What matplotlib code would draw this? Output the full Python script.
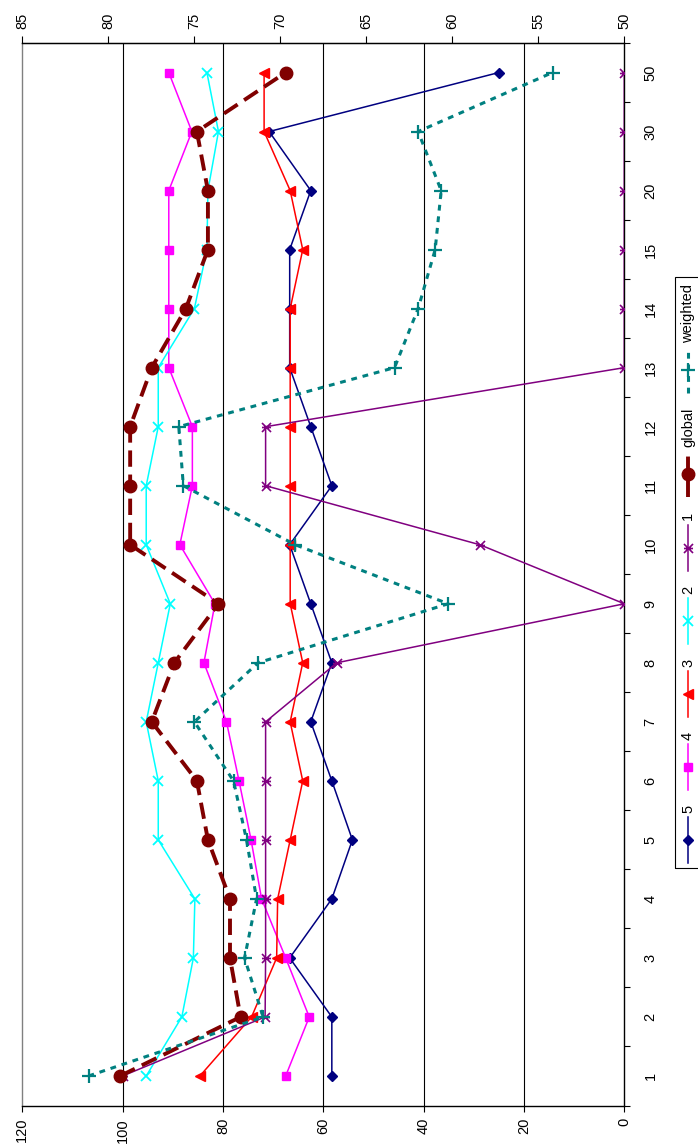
import numpy as np
import matplotlib
matplotlib.use("Agg")
import matplotlib.pyplot as plt
from matplotlib.lines import Line2D
from matplotlib.patches import Rectangle
from matplotlib.path import Path

plt.rcParams['font.family'] = ['Liberation Sans', 'DejaVu Sans']

# ---- data -------------------------------------------------------------
categories = ["1", "2", "3", "4", "5", "6", "7", "8", "9", "10",
              "11", "12", "13", "14", "15", "20", "30", "50"]

series_5 = [58.3, 58.3, 66.7, 58.3, 54.2, 58.3, 62.5, 58.3, 62.5, 66.7,
            58.3, 62.5, 66.7, 66.7, 66.7, 62.5, 70.8, 25.0]
series_4 = [67.5, 62.8, 67.5, 72.3, 74.4, 76.8, 79.3, 83.8, 81.6, 88.6,
            86.1, 86.1, 90.8, 90.8, 90.8, 90.8, 86.2, 90.8]
series_3 = [84.6, 74.3, 69.3, 69.1, 66.6, 64.1, 66.6, 64.1, 66.6, 66.6,
            66.6, 66.6, 66.6, 66.6, 64.1, 66.6, 71.8, 71.8]
series_2 = [95.3, 88.2, 85.9, 85.6, 92.9, 92.9, 95.3, 92.9, 90.5, 95.3,
            95.3, 92.9, 92.9, 85.7, 83.2, 83.0, 80.9, 83.2]
series_1 = [100.0, 71.6, 71.5, 71.5, 71.5, 71.5, 71.5, 57.3, 0.0, 28.8,
            71.5, 71.5, 0.0, 0.0, 0.0, 0.0, 0.0, 0.0]
series_global = [100.5, 76.5, 78.6, 78.6, 83.0, 85.2, 94.2, 89.7, 80.9, 98.5,
                 98.5, 98.5, 94.2, 87.4, 83.0, 83.0, 85.2, 67.5]
series_weighted = [106.8, 72.0, 75.7, 73.3, 75.3, 77.9, 85.7, 73.0, 35.1, 65.6,
                   87.9, 88.8, 45.8, 41.1, 37.7, 36.5, 41.1, 14.3]

primary_ticks = [0, 20, 40, 60, 80, 100, 120]
secondary_ticks = [50, 55, 60, 65, 70, 75, 80, 85]

# ---- styles -----------------------------------------------------------
# asterisk marker: an "x" crossed by a bar
star_path = Path([(-1, -1), (1, 1), (-1, 1), (1, -1), (-1, 0), (1, 0)],
                 [Path.MOVETO, Path.LINETO, Path.MOVETO, Path.LINETO,
                  Path.MOVETO, Path.LINETO])

styles = [
    ("5", series_5, dict(color="#000080", lw=1.1, marker="D", ms=5.2,
                         mfc="#000080", mec="#000080")),
    ("4", series_4, dict(color="#FF00FF", lw=1.1, marker="s", ms=6.2,
                         mfc="#FF00FF", mec="#FF00FF")),
    ("3", series_3, dict(color="#FF0000", lw=1.1, marker="<", ms=7.5,
                         mfc="#FF0000", mec="#FF0000")),
    ("2", series_2, dict(color="#00FFFF", lw=1.1, marker="x", ms=6.5,
                         mew=1.3, mec="#00FFFF")),
    ("1", series_1, dict(color="#800080", lw=1.1, marker=star_path, ms=6.5,
                         mew=1.2, mec="#800080")),
    ("global", series_global, dict(color="#800000", lw=2.8, ls=(0, (4.2, 2.0)),
                                   marker="o", ms=9, mfc="#800000",
                                   mec="#800000", dash_capstyle="butt")),
    ("weighted", series_weighted, dict(color="#008080", lw=2.2, ls=(0, (1.9, 1.9)),
                                       marker="+", ms=10, mew=1.6,
                                       mec="#008080", dash_capstyle="butt")),
]

W, H = 698, 1147
fig = plt.figure(figsize=(W / 100, H / 100), dpi=100)
left, right, top, bottom = 22.3, 624.3, 43.0, 1105.5
ax = fig.add_axes([left / W, 1 - bottom / H, (right - left) / W, (bottom - top) / H])

pos = np.arange(len(categories))

for v in primary_ticks[1:-1]:
    ax.axvline(v, color="black", lw=0.8, zorder=1)

for name, vals, st in styles:
    ax.plot(vals, pos, zorder=3, **st)

ax.set_xlim(120, 0)
ax.set_ylim(-0.5, len(categories) - 0.5)

fs = 10.5
ax.set_xticks(primary_ticks)
ax.set_xticklabels([str(t) for t in primary_ticks], rotation=90, fontsize=fs)
ax.tick_params(axis="x", direction="out", length=4, width=0.8, pad=5)

ax.yaxis.tick_right()
ax.set_yticks(np.arange(-0.5, len(categories), 1.0))
ax.set_yticklabels([])
ax.set_yticks(pos, minor=True)
ax.set_yticklabels(categories, minor=True, rotation=90, fontsize=fs, va="center")
ax.tick_params(axis="y", which="major", direction="out", length=4, width=0.8,
               right=True, left=False)
ax.tick_params(axis="y", which="minor", length=0, pad=14, right=True, left=False)

for s in ["right", "bottom"]:
    ax.spines[s].set_color("black")
    ax.spines[s].set_linewidth(1.0)
ax.spines["left"].set_color("#808080")
ax.spines["left"].set_linewidth(1.0)

ax2 = ax.twiny()
ax2.set_xlim(85, 50)
ax2.set_xticks(secondary_ticks)
ax2.set_xticklabels([str(t) for t in secondary_ticks], rotation=90, fontsize=fs)
ax2.tick_params(axis="x", direction="out", length=5, width=0.8, pad=5)
ax2.spines["top"].set_color("black")
ax2.spines["top"].set_linewidth(1.0)
for s in ["left", "right", "bottom"]:
    ax2.spines[s].set_visible(False)

# ---- legend, laid out along the right edge -----------------------------
def fx(x):
    return x / W


def fy(y):
    return 1 - y / H


renderer = fig.canvas.get_renderer()
x_leg = 688
y0 = 863
top_px = y0
for name, vals, st in styles:
    line_kw = {k: v for k, v in st.items() if k not in ("marker", "ms", "mfc", "mec", "mew")}
    mark_kw = {k: v for k, v in st.items() if k in ("marker", "ms", "mfc", "mec", "mew", "color")}
    fig.add_artist(Line2D([fx(x_leg)] * 2, [fy(y0), fy(y0 - 46)],
                          transform=fig.transFigure, **line_kw))
    fig.add_artist(Line2D([fx(x_leg)], [fy(y0 - 23)], ls="none",
                          transform=fig.transFigure, **mark_kw))
    t = fig.text(fx(x_leg), fy(y0 - 50), name, rotation=90, ha="center",
                 va="bottom", fontsize=fs)
    bb = t.get_window_extent(renderer)
    top_px = H - bb.y1
    y0 = top_px - 15

box_top = top_px - 7
fig.add_artist(Rectangle((fx(675), fy(868)), fx(700) - fx(675), fy(box_top) - fy(868),
                         transform=fig.transFigure, fill=False, ec="black", lw=0.8))

fig.savefig("out.png", dpi=100)
